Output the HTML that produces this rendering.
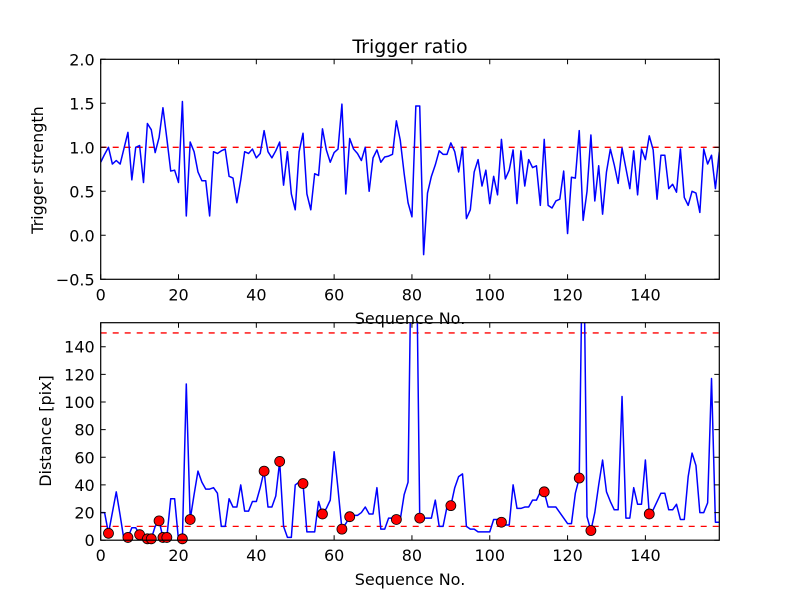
<!DOCTYPE html>
<html><head><meta charset="utf-8"><style>
html,body{margin:0;padding:0;background:#fff;}
svg{display:block;font-family:"DejaVu Sans","Liberation Sans",sans-serif;}
</style></head><body>
<svg id="chart" width="800" height="600" viewBox="0 0 800 600">
<rect width="800" height="600" fill="#fff"/>
</svg>
<script>
const topValues = [0.83,0.92,1.0,0.81,0.85,0.81,0.99,1.17,0.63,1.0,1.02,0.6,1.27,1.2,0.94,1.11,1.45,1.1,0.73,0.74,0.6,1.52,0.22,1.06,0.95,0.72,0.62,0.62,0.22,0.95,0.93,0.96,0.98,0.67,0.65,0.37,0.63,0.95,0.93,0.98,0.88,0.93,1.19,0.95,0.88,0.96,1.06,0.57,0.95,0.47,0.29,0.95,1.16,0.47,0.29,0.70,0.68,1.21,0.97,0.83,0.94,0.98,1.49,0.47,1.10,0.98,0.93,0.85,1.0,0.5,0.88,0.97,0.83,0.89,0.9,0.92,1.30,1.08,0.70,0.37,0.21,1.47,1.47,-0.22,0.48,0.67,0.80,0.96,0.92,0.92,1.05,0.95,0.72,1.0,0.19,0.29,0.72,0.86,0.56,0.74,0.36,0.67,0.46,1.09,0.64,0.74,0.97,0.36,0.96,0.56,0.86,0.77,0.79,0.34,1.09,0.34,0.31,0.39,0.41,0.73,0.02,0.66,0.65,1.19,0.17,0.5,1.14,0.39,0.79,0.24,0.72,0.98,0.8,0.59,0.99,0.76,0.53,0.96,0.46,0.98,0.86,1.13,0.97,0.41,0.91,0.91,0.53,0.58,0.49,0.98,0.43,0.34,0.50,0.48,0.26,0.98,0.81,0.91,0.53,0.95];
const distValues = [20,20,5,20,35,18,0,2,9,9,4,1,1,1,10,14,2,2,30,30,0,1,113,15,33,50,42,37,37,38,34,10,10,30,24,24,40,21,21,28,28,38,50,24,24,32,57,10,2,2,40,42,41,6,6,6,28,19,23,29,64,37,8,12,17,18,18,20,24,19,19,38,8,8,16,16,15,15,33,42,250,250,16,16,16,16,29,10,10,24,25,38,46,48,10,8,8,6,6,6,6,15,15,13,11,11,40,23,23,24,24,29,29,35,35,24,24,24,20,16,12,12,34,45,250,17,7,20,40,58,35,28,22,22,104,16,16,38,26,26,58,19,22,28,34,34,22,22,26,15,15,46,63,54,20,20,27,117,13,13];
const markerIdx = [2,7,10,12,13,15,16,17,21,23,42,46,52,57,62,64,76,82,90,103,114,123,126,141];
const topRefLine = [1.0];
const distRefLines = [10,150];
const xTicks = [0,20,40,60,80,100,120,140];
const topYTicks = [-0.5,0.0,0.5,1.0,1.5,2.0];
const topYLabels = ["\u22120.5","0.0","0.5","1.0","1.5","2.0"];
const distYTicks = [0,20,40,60,80,100,120,140];

const NS = "http://www.w3.org/2000/svg";
const svg = document.getElementById('chart');
function mk(tag, attrs, parent){const e=document.createElementNS(NS,tag);for(const k in attrs)e.setAttribute(k,attrs[k]);(parent||svg).appendChild(e);return e;}

const L=100.7, R=719.3, XMAX=159;
const xs = v => L + (v/XMAX)*(R-L);
const T1={top:59.3,bot:279.3,min:-0.5,max:2.0};
const T2={top:322.7,bot:540.2,min:0,max:157.4};
const ys = (ax,v) => ax.bot - (v-ax.min)/(ax.max-ax.min)*(ax.bot-ax.top);

function drawAxes(ax, yTicks, yLabels, name){
  const g = mk('g',{});
  
  
  const clipId = name+'-clip';
  const cp = mk('clipPath',{id:clipId},g);
  mk('rect',{x:L,y:ax.top,width:R-L,height:ax.bot-ax.top},cp);
  const plot = mk('g',{'clip-path':'url(#'+clipId+')'},g);
  xTicks.forEach(t=>{
    const x=xs(t);
    const tk=mk('path',{d:`M${x},${ax.bot}v-5M${x},${ax.top}v5`,stroke:'#000','stroke-width':1},g);
     
    const lb=mk('text',{x:x,y:ax.bot+21,'text-anchor':'middle','font-size':16,fill:'#000'},g);
    lb.textContent=t;
     
  });
  yTicks.forEach((t,i)=>{
    const y=ys(ax,t);
    const tk=mk('path',{d:`M${L},${y}h5M${R},${y}h-5`,stroke:'#000','stroke-width':1},g);
     
    const lb=mk('text',{x:L-6,y:y+6,'text-anchor':'end','font-size':16,fill:'#000'},g);
    lb.textContent=yLabels?yLabels[i]:t;
     
  });
  return {g,plot};
}

// Top axes
const A1 = drawAxes(T1, topYTicks, topYLabels, 'top');
topRefLine.forEach(v=>{
  const l=mk('line',{x1:L,x2:R,y1:ys(T1,v),y2:ys(T1,v),stroke:'#ff0000','stroke-width':1.3,'stroke-dasharray':'6,6'},A1.plot);
   
});
const p1 = mk('polyline',{points:topValues.map((v,i)=>xs(i)+','+ys(T1,v)).join(' '),fill:'none',stroke:'#0000ff','stroke-width':1.5,'stroke-linejoin':'round'},A1.plot);
 
const f1=mk('rect',{x:L,y:T1.top,width:R-L,height:T1.bot-T1.top,fill:'none',stroke:'#000','stroke-width':1.2},A1.g);
 

// Bottom axes
const A2 = drawAxes(T2, distYTicks, null, 'bottom');
distRefLines.forEach(v=>{
  const l=mk('line',{x1:L,x2:R,y1:ys(T2,v),y2:ys(T2,v),stroke:'#ff0000','stroke-width':1.3,'stroke-dasharray':'6,6'},A2.plot);
   
});
const p2 = mk('polyline',{points:distValues.map((v,i)=>xs(i)+','+ys(T2,v)).join(' '),fill:'none',stroke:'#0000ff','stroke-width':1.5,'stroke-linejoin':'round'},A2.plot);
 
const mg = mk('g',{},A2.g);
markerIdx.forEach(i=>{
  const c=mk('circle',{cx:xs(i),cy:ys(T2,distValues[i]),r:5,fill:'#ff0000',stroke:'#000','stroke-width':0.8},mg);
   
});
const f2=mk('rect',{x:L,y:T2.top,width:R-L,height:T2.bot-T2.top,fill:'none',stroke:'#000','stroke-width':1.2},A2.g);
 

// Labels
function txt(s,attrs,name){const t=mk('text',Object.assign({fill:'#000','text-anchor':'middle'},attrs));t.textContent=s;return t;}
txt('Trigger ratio',{x:410,y:53,'font-size':19},'top-title');
txt('Sequence No.',{x:410,y:324,'font-size':16},'top-x-axis-title');
txt('Sequence No.',{x:410,y:585,'font-size':16},'bottom-x-axis-title');
txt('Trigger strength',{x:0,y:0,'font-size':16,transform:'translate(43,170) rotate(-90)'},'top-y-axis-title');
txt('Distance [pix]',{x:0,y:0,'font-size':16,transform:'translate(51,431) rotate(-90)'},'bottom-y-axis-title');
</script>
</body></html>
